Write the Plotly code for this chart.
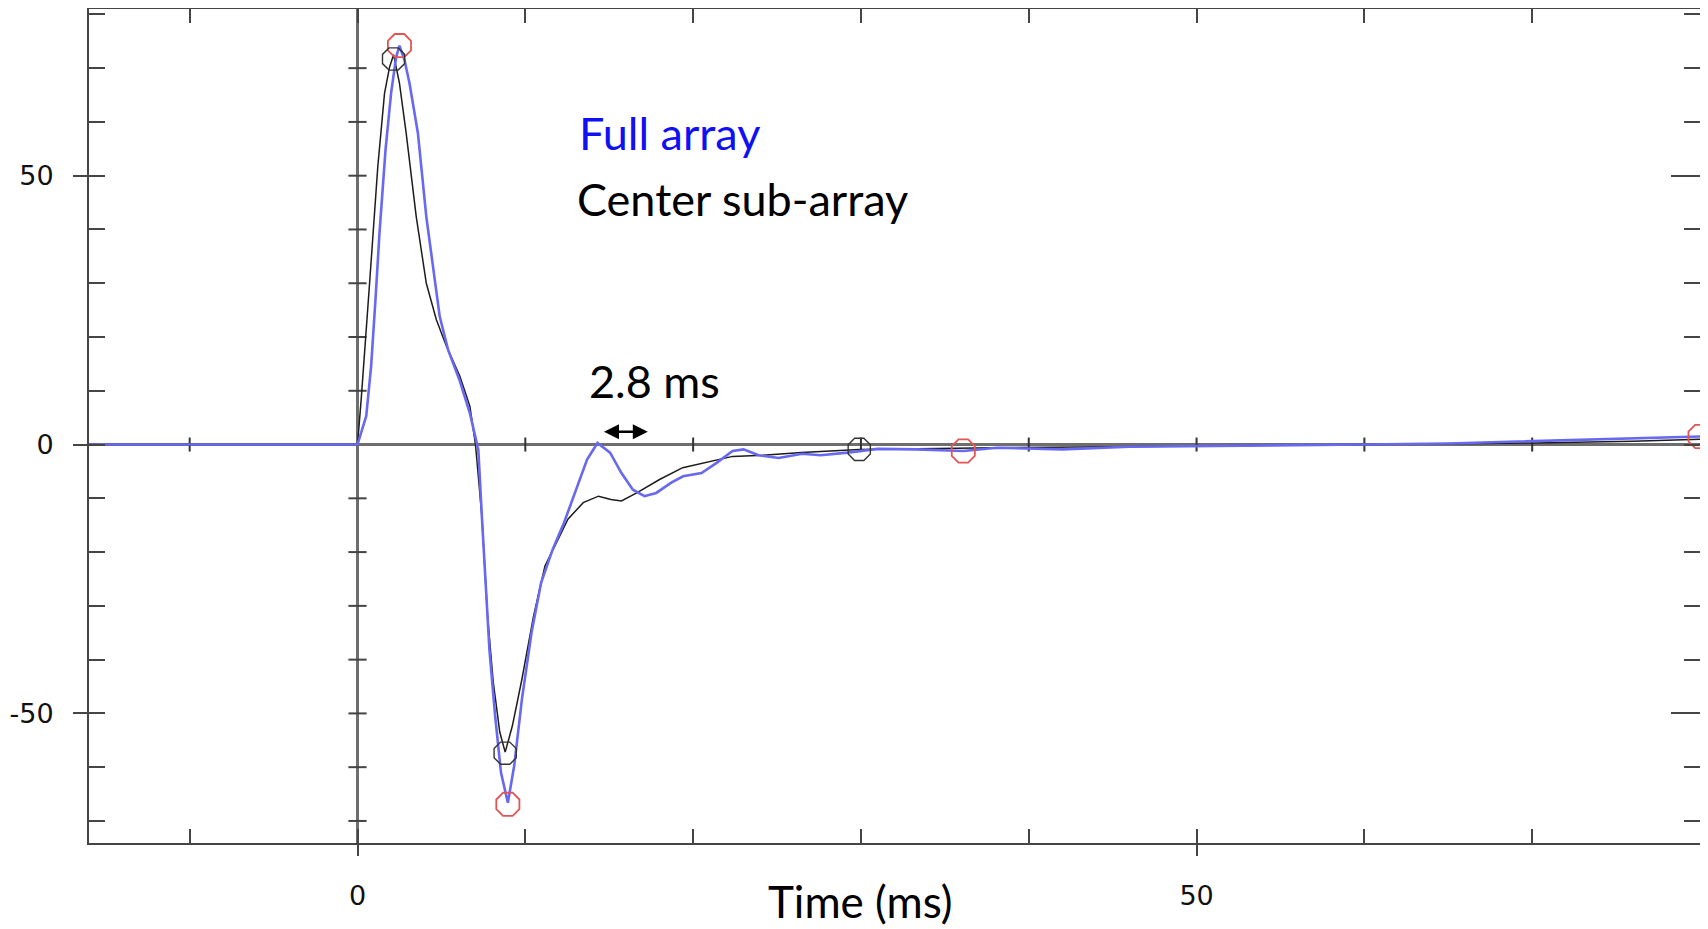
import plotly.graph_objects as go

# ---- data ----
full_t = [-16, -0.6, 0, 0.52, 0.81, 1.07, 1.31, 1.67, 2.0, 2.3, 2.5, 2.8, 3.1, 3.6, 4.1, 4.5,
          4.9, 5.4, 6.1, 6.7, 7.07, 7.2, 7.41, 7.63, 7.86, 8.2, 8.55, 8.96, 9.34, 9.8, 10.37,
          10.94, 11.63, 12.31, 13.0, 13.68, 14.3, 15.05, 15.73, 16.41, 17.1, 17.8, 18.7, 19.4,
          20.5, 21.4, 22.35, 23.0, 23.9, 25.1, 26.5, 27.6, 29.2, 31.0, 33.3, 36.1, 38.1, 42,
          46, 50, 55, 60, 65, 70, 74, 78, 80]
full_v = [0, 0, 0, 5.3, 14.5, 26.9, 39.3, 54.8, 65.3, 72, 74.2, 71.5, 67.2, 57.9, 42.4, 33.1,
          23.8, 17.6, 11.8, 5.8, 0.5, -1, -13.3, -25.7, -38.1, -50.4, -61, -66.6, -59.7, -47.3, -35,
          -25.7, -19.5, -14.5, -8.4, -2.8, 0.3, -1.5, -5.3, -8.4, -9.6, -9.0, -7.1, -5.9,
          -5.3, -3.4, -1.2, -0.9, -2.0, -2.5, -1.7, -2.0, -1.5, -0.8, -0.9, -1.2, -0.6, -0.9,
          -0.4, -0.3, -0.2, 0, 0.2, 0.6, 0.9, 1.2, 1.5]

center_t = [-16, 0, 0.22, 0.52, 0.72, 1.21, 1.61, 1.91, 2.15, 2.5, 2.9, 3.5, 4.1, 4.7, 5.3,
            6.1, 6.7, 7.03, 7.41, 7.75, 8.09, 8.48, 8.8, 9.23, 9.8, 10.49, 11.17, 11.85, 12.54,
            13.45, 14.36, 15.1, 15.73, 16.64, 18.0, 19.38, 20.74, 22.35, 24.17, 26.45, 29.9,
            32.15, 38, 45, 50, 60, 70, 76, 80]
center_v = [0, 0, 8.4, 20.7, 30, 51.7, 65.3, 70.2, 72.5, 67.2, 57.9, 42.4, 30, 23.2, 18.3,
            12.7, 7.1, 0, -13.3, -31.9, -44.2, -53.5, -57.2, -52.3, -43.6, -31.9, -22.6, -18.3, -13.9,
            -10.8, -9.6, -10.2, -10.5, -9.0, -6.5, -4.3, -3.4, -2.2, -2.0, -1.5, -0.9,
            -0.8, -0.6, -0.4, -0.3, 0, 0.3, 0.6, 1.0]

full_marks_t = [2.5, 8.96, 36.1, 80]
full_marks_v = [74.2, -66.9, -1.2, 1.5]
center_marks_t = [2.15, 8.8, 29.9]
center_marks_v = [71.7, -57.4, -0.9]

x_minor_ticks = [-10, 0, 10, 20, 30, 40, 50, 60, 70]
x_major_ticks = [0, 50]
x_tick_text = ["0", "50"]
y_minor_ticks = [-70, -60, -50, -40, -30, -20, -10, 0, 10, 20, 30, 40, 50, 60, 70, 80]
y_major_ticks = [-50, 0, 50]
y_tick_text = ["-50", "0", "50"]
zero_line_x_ticks = [-10, 10, 20, 30, 40, 50, 60, 70]
zero_line_y_ticks = [-70, -60, -50, -40, -30, -20, -10, 10, 20, 30, 40, 50, 60, 70]

X_RANGE = [-16, 80]
Y_RANGE = [-74.1, 81]

AXIS_COL = "#454545"
ZERO_COL = "#6e6e6e"
TICKFONT = dict(family="DejaVu Sans", size=27, color="#111111")
TXTFONT = "Lato"

fig = go.Figure()

# tick marks along the zero lines
fig.add_trace(go.Scatter(x=zero_line_x_ticks, y=[0] * len(zero_line_x_ticks), mode="markers",
                         marker=dict(symbol="line-ns", size=10, color="#333",
                                     line=dict(width=2, color="#333")),
                         hoverinfo="skip", showlegend=False))
fig.add_trace(go.Scatter(x=[0] * len(zero_line_y_ticks), y=zero_line_y_ticks, mode="markers",
                         marker=dict(symbol="line-ew", size=13, color="#444",
                                     line=dict(width=2, color="#444")),
                         hoverinfo="skip", showlegend=False))

# curves
fig.add_trace(go.Scatter(x=center_t, y=center_v, mode="lines", name="Center sub-array",
                         line=dict(color="#1c1c1c", width=1.5), showlegend=False))
fig.add_trace(go.Scatter(x=full_t, y=full_v, mode="lines", name="Full array",
                         line=dict(color="#6868f0", width=2.6), showlegend=False))

# peak markers
fig.add_trace(go.Scatter(x=full_marks_t, y=full_marks_v, mode="markers",
                         marker=dict(symbol="octagon-open", size=25, color="#e25555",
                                     line=dict(width=1.8, color="#e25555")),
                         showlegend=False, hoverinfo="skip"))
fig.add_trace(go.Scatter(x=center_marks_t, y=center_marks_v, mode="markers",
                         marker=dict(symbol="octagon-open", size=24, color="#333333",
                                     line=dict(width=1.4, color="#333333")),
                         showlegend=False, hoverinfo="skip"))

# dummy traces so overlay axes get drawn
fig.add_trace(go.Scatter(x=[0], y=[0], xaxis="x2", yaxis="y2", mode="markers",
                         marker=dict(opacity=0), hoverinfo="skip", showlegend=False))
fig.add_trace(go.Scatter(x=[0], y=[0], xaxis="x", yaxis="y3", mode="markers",
                         marker=dict(opacity=0), hoverinfo="skip", showlegend=False))

# the page body adds an 8px offset, so the figure is 8px smaller and margins compensate
fig.update_layout(
    width=1700, height=921, autosize=False,
    margin=dict(l=81, r=8, t=1, b=86),
    paper_bgcolor="white", plot_bgcolor="white",
    xaxis=dict(range=X_RANGE, showgrid=False, showline=True, linecolor=AXIS_COL, linewidth=2,
               mirror="ticks", ticks="inside", tickvals=x_minor_ticks, ticklen=14, tickwidth=2,
               tickcolor=AXIS_COL, showticklabels=False, automargin=False,
               zeroline=True, zerolinecolor=ZERO_COL, zerolinewidth=2.5),
    yaxis=dict(range=Y_RANGE, showgrid=False, showline=True, linecolor=AXIS_COL, linewidth=2,
               mirror="ticks", ticks="inside", tickvals=y_minor_ticks, ticklen=16, tickwidth=2,
               tickcolor=AXIS_COL, showticklabels=False, automargin=False,
               zeroline=True, zerolinecolor=ZERO_COL, zerolinewidth=2.5),
    xaxis2=dict(range=X_RANGE, overlaying="x", anchor="y", side="bottom", showgrid=False,
                showline=False, zeroline=False, ticks="outside", tickvals=x_major_ticks,
                ticktext=x_tick_text, ticklen=12, tickwidth=2, tickcolor=AXIS_COL,
                tickfont=TICKFONT, ticklabelstandoff=17, automargin=False),
    yaxis2=dict(range=Y_RANGE, overlaying="y", anchor="x", side="left", showgrid=False,
                showline=False, zeroline=False, ticks="outside", tickvals=y_major_ticks,
                ticktext=y_tick_text, ticklen=15, tickwidth=2, tickcolor=AXIS_COL,
                tickfont=TICKFONT, ticklabelstandoff=14, automargin=False),
    yaxis3=dict(range=Y_RANGE, overlaying="y", anchor="x", side="right", showgrid=False,
                showline=False, zeroline=False, ticks="inside", tickvals=[-50, 50],
                ticklen=29, tickwidth=2, tickcolor=AXIS_COL, showticklabels=False,
                automargin=False),
)

fig.add_annotation(x=13.07, y=57.9, xref="x", yref="y", text="Full array", showarrow=False,
                   xanchor="left", yanchor="middle",
                   font=dict(family=TXTFONT, size=45, color="#1010f5"))
fig.add_annotation(x=12.95, y=45.7, xref="x", yref="y", text="Center sub-array", showarrow=False,
                   xanchor="left", yanchor="middle",
                   font=dict(family=TXTFONT, size=45, color="black"))
fig.add_annotation(x=17.7, y=11.8, xref="x", yref="y", text="2.8 ms", showarrow=False,
                   xanchor="center", yanchor="middle",
                   font=dict(family=TXTFONT, size=45, color="black"))
fig.add_annotation(x=0.4786, y=-0.069, xref="paper", yref="paper", text="Time (ms)",
                   showarrow=False, xanchor="center", yanchor="middle",
                   font=dict(family=TXTFONT, size=44, color="black"))
# double-headed arrow
fig.add_annotation(x=17.3, y=2.4, ax=14.6, ay=2.4, xref="x", yref="y", axref="x", ayref="y",
                   text="", showarrow=True, arrowhead=2, arrowside="end+start", arrowsize=1.2,
                   arrowwidth=2.5, arrowcolor="black")

fig.write_html("out.html")
